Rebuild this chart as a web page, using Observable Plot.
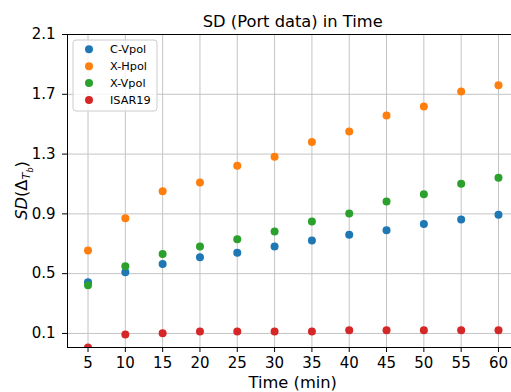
<!DOCTYPE html>
<html>
<head>
<meta charset="utf-8">
<script src="https://cdn.jsdelivr.net/npm/d3@7"></script>
<script src="https://cdn.jsdelivr.net/npm/@observablehq/plot@0.6"></script>
<style>
  html, body { margin: 0; padding: 0; background: white; overflow: hidden; }
  #chart svg { display: block; }
</style>
</head>
<body>
<div id="chart"></div>
<script>
// Sampling times (minutes)
const times = [5, 10, 15, 20, 25, 30, 35, 40, 45, 50, 55, 60];

// Standard deviation of the brightness-temperature difference per series
const cVpol  = [0.443, 0.510, 0.564, 0.610, 0.640, 0.682, 0.722, 0.760, 0.791, 0.833, 0.863, 0.894];
const xHpol  = [0.655, 0.871, 1.052, 1.110, 1.222, 1.282, 1.380, 1.451, 1.558, 1.618, 1.719, 1.761];
const xVpol  = [0.423, 0.550, 0.631, 0.682, 0.731, 0.782, 0.849, 0.903, 0.983, 1.032, 1.101, 1.141];
const isar19 = [0.006, 0.093, 0.102, 0.113, 0.113, 0.113, 0.113, 0.122, 0.122, 0.122, 0.122, 0.122];

const seriesNames  = ["C-Vpol", "X-Hpol", "X-Vpol", "ISAR19"];
const seriesValues = [cVpol, xHpol, xVpol, isar19];
const seriesColors = ["#1f77b4", "#ff7f0e", "#2ca02c", "#d62728"];

const yTicks = [0.1, 0.5, 0.9, 1.3, 1.7, 2.1];
const xTicks = times;

const titleText = "SD (Port data) in Time";
const xLabelText = "Time (min)";

const rows = seriesNames.flatMap((name, i) =>
  times.map((t, j) => ({series: name, time: t, sd: seriesValues[i][j]}))
);

const xDomain = [2.25, 62.75];
const yDomain = [0.006, 2.1];

const W = 511, H = 392;
const mLeft = 67, mRight = -7.5, mTop = 34, mBottom = 45;

const plot = Plot.plot({
  width: W,
  height: H,
  marginLeft: mLeft,
  marginRight: mRight,
  marginTop: mTop,
  marginBottom: mBottom,
  style: {fontFamily: "DejaVu Sans, sans-serif", fontSize: "15px", color: "black", background: "white"},
  x: {domain: xDomain, ticks: xTicks, tickSize: 5, tickPadding: 5, tickFormat: d => String(d), label: null},
  y: {domain: yDomain, ticks: yTicks, tickSize: 5, tickPadding: 7, tickFormat: d3.format(".1f"), label: null},
  color: {domain: seriesNames, range: seriesColors},
  marks: [
    Plot.ruleX(xTicks, {stroke: "#c4c4c4", strokeWidth: 1}),
    Plot.ruleY(yTicks, {stroke: "#c4c4c4", strokeWidth: 1}),
    Plot.frame({stroke: "black", strokeWidth: 1}),
    Plot.dot(rows, {x: "time", y: "sd", fill: "series", r: 4, clip: true})
  ]
});

document.getElementById("chart").appendChild(plot);

const svg = d3.select(plot);
const cx = (mLeft + (W - mRight)) / 2;
const cy = (mTop + (H - mBottom)) / 2;

// axis tick labels at 15px
svg.selectAll("g[aria-label*='axis']").each(function() {
  d3.select(this).attr("font-size", 15).style("font-size", "15px");
  d3.select(this).selectAll("text").attr("font-size", 15).style("font-size", "15px");
});

// title and x-axis label, positioned by baseline
svg.append("text")
  .attr("x", cx).attr("y", 27.3)
  .attr("text-anchor", "middle")
  .attr("font-family", "DejaVu Sans, sans-serif")
  .attr("font-size", 16.3)
  .attr("fill", "black")
  .text(titleText);

svg.append("text")
  .attr("x", cx).attr("y", 387.7)
  .attr("text-anchor", "middle")
  .attr("font-family", "DejaVu Sans, sans-serif")
  .attr("font-size", 16.3)
  .attr("fill", "black")
  .text(xLabelText);

// y-axis label: SD(Δ_{T_b}) with nested subscripts, centred on the frame
const ylab = svg.append("text")
  .attr("transform", `translate(27,${cy}) rotate(-90)`)
  .attr("text-anchor", "middle")
  .attr("font-family", "DejaVu Sans, sans-serif")
  .attr("font-size", 16.3)
  .attr("fill", "black");
ylab.append("tspan").attr("font-style", "italic").text("SD");
ylab.append("tspan").text("(Δ");
ylab.append("tspan").attr("font-style", "italic").attr("font-size", 11.3).attr("dy", 3).text("T");
ylab.append("tspan").attr("font-style", "italic").attr("font-size", 8).attr("dy", 2.5).text("b");
ylab.append("tspan").attr("dy", -5.5).text(")");

// legend box
const legend = svg.append("g")
  .attr("font-family", "DejaVu Sans, sans-serif")
  .attr("font-size", 11.3)
  .attr("text-anchor", "start");
legend.append("rect")
  .attr("x", 73).attr("y", 40).attr("width", 84).attr("height", 71)
  .attr("rx", 3).attr("ry", 3)
  .attr("fill", "white").attr("fill-opacity", 0.8)
  .attr("stroke", "#cccccc").attr("stroke-width", 1);
seriesNames.forEach((name, i) => {
  const ly = 49.3 + i * 16.9;
  legend.append("circle").attr("cx", 89).attr("cy", ly).attr("r", 4).attr("fill", seriesColors[i]);
  legend.append("text").attr("x", 110).attr("y", ly).attr("dy", "0.35em").attr("fill", "black").text(name);
});
</script>
</body>
</html>
